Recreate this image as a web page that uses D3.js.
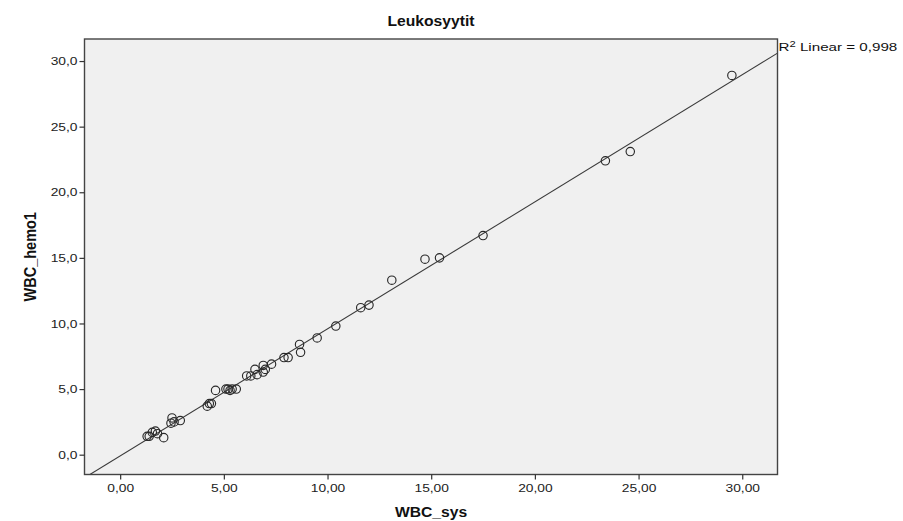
<!DOCTYPE html>
<html>
<head>
<meta charset="utf-8">
<script src="https://cdn.jsdelivr.net/npm/d3@7"></script>
<style>
  html, body { margin: 0; padding: 0; background: #ffffff; }
  svg { display: block; font-family: "Liberation Sans", Arial, sans-serif; }
</style>
</head>
<body>
<svg id="chart" width="903" height="521"></svg>
<script>
// White blood cell counts: reference system vs. haemolyser
const wbcSys = [
  29.5, 23.4, 24.6, 17.5, 14.7, 15.4, 13.1, 11.6, 12.0, 10.4,
  9.5, 8.65, 8.7, 7.9, 8.1, 7.3, 6.9, 6.5, 7.0, 6.9,
  6.3, 6.1, 4.6, 5.2, 5.4, 5.6, 5.3, 4.3, 4.2, 4.4,
  2.5, 2.6, 2.9, 2.45, 1.7, 1.55, 1.4, 2.1, 1.3, 1.8,
  6.6, 5.1
];
const wbcHemo = [
  28.9, 22.4, 23.1, 16.7, 14.9, 15.0, 13.3, 11.2, 11.4, 9.8,
  8.9, 8.4, 7.8, 7.4, 7.4, 6.9, 6.8, 6.5, 6.5, 6.3,
  6.0, 6.0, 4.9, 5.0, 5.0, 5.0, 4.9, 3.9, 3.7, 3.9,
  2.8, 2.5, 2.6, 2.4, 1.8, 1.7, 1.4, 1.3, 1.4, 1.6,
  6.1, 5.0
];
const xTicks = [0, 5, 10, 15, 20, 25, 30];
const yTicks = [0, 5, 10, 15, 20, 25, 30];
const xDomain = [-1.72, 31.7];
const yDomain = [-1.51, 31.68];
const chartTitle = "Leukosyytit";
const xTitle = "WBC_sys";
const yTitle = "WBC_hemo1";
const rSquaredText = "0,998";

const svg = d3.select("#chart");
const plot = { left: 84.5, top: 39, right: 777.5, bottom: 474.5 };
const tickStretch = 1.2;   // horizontal widening of tick labels
const titleStretch = 1.08; // horizontal widening of titles

const x = d3.scaleLinear().domain(xDomain).range([plot.left, plot.right]);
const y = d3.scaleLinear().domain(yDomain).range([plot.bottom, plot.top]);

const fmtX = v => d3.format(".2f")(v).replace(".", ",");
const fmtY = v => d3.format(".1f")(v).replace(".", ",");

// plot background
svg.append("rect")
  .attr("x", plot.left).attr("y", plot.top)
  .attr("width", plot.right - plot.left).attr("height", plot.bottom - plot.top)
  .attr("fill", "#f0f0f0");

svg.append("clipPath").attr("id", "plotClip")
  .append("rect")
  .attr("x", plot.left).attr("y", plot.top)
  .attr("width", plot.right - plot.left).attr("height", plot.bottom - plot.top);

// least-squares fit line
const data = wbcSys.map((v, i) => ({ x: v, y: wbcHemo[i] }));
const mx = d3.mean(data, d => d.x), my = d3.mean(data, d => d.y);
const slope = d3.sum(data, d => (d.x - mx) * (d.y - my)) / d3.sum(data, d => (d.x - mx) ** 2);
const intercept = my - slope * mx;
svg.append("line")
  .attr("clip-path", "url(#plotClip)")
  .attr("x1", x(xDomain[0])).attr("y1", y(intercept + slope * xDomain[0]))
  .attr("x2", x(xDomain[1])).attr("y2", y(intercept + slope * xDomain[1]))
  .attr("stroke", "#3a3a3a").attr("stroke-width", 1.1);

// points
svg.append("g").attr("clip-path", "url(#plotClip)")
  .selectAll("circle").data(data).join("circle")
  .attr("cx", d => x(d.x)).attr("cy", d => y(d.y)).attr("r", 4.2)
  .attr("fill", "none").attr("stroke", "#2a2a2a").attr("stroke-width", 1.15);

// frame
svg.append("rect")
  .attr("x", plot.left).attr("y", plot.top)
  .attr("width", plot.right - plot.left).attr("height", plot.bottom - plot.top)
  .attr("fill", "none").attr("stroke", "#444").attr("stroke-width", 1.4);

// axes
const xAxis = svg.append("g")
  .attr("transform", `translate(0,${plot.bottom})`)
  .call(d3.axisBottom(x).tickValues(xTicks).tickFormat(fmtX).tickSize(5).tickPadding(4));
const yAxis = svg.append("g")
  .attr("transform", `translate(${plot.left},0)`)
  .call(d3.axisLeft(y).tickValues(yTicks).tickFormat(fmtY).tickSize(5).tickPadding(2));
[xAxis, yAxis].forEach(g => {
  g.select(".domain").remove();
  g.selectAll(".tick line").attr("stroke", "#333").attr("stroke-width", 1.2);
  g.selectAll(".tick text").attr("fill", "#222").attr("font-size", 11.5)
    .attr("font-family", "'Liberation Sans', Arial, sans-serif");
});
xAxis.selectAll(".tick text").attr("transform", `scale(${tickStretch},1)`).attr("x", 0);
yAxis.selectAll(".tick text").attr("transform", `translate(-7,0) scale(${tickStretch},1)`).attr("x", 0);

// titles
svg.append("text")
  .attr("transform", `translate(${(plot.left + plot.right) / 2},26) scale(${titleStretch},1)`)
  .attr("text-anchor", "middle").attr("font-weight", "bold").attr("font-size", 14.5)
  .attr("fill", "#111").text(chartTitle);

svg.append("text")
  .attr("transform", `translate(${(plot.left + plot.right) / 2},517) scale(${titleStretch},1)`)
  .attr("text-anchor", "middle").attr("font-weight", "bold").attr("font-size", 14.5)
  .attr("fill", "#111").text(xTitle);

svg.append("text")
  .attr("transform", `translate(36,${(plot.top + plot.bottom) / 2}) scale(${titleStretch},1) rotate(-90)`)
  .attr("text-anchor", "middle").attr("font-weight", "bold").attr("font-size", 14.5)
  .attr("fill", "#111").text(yTitle);

// R squared note
const note = svg.append("text")
  .attr("transform", `translate(${plot.right + 1},51) scale(1.32,1)`)
  .attr("font-size", 11.5).attr("fill", "#111");
note.append("tspan").text("R");
note.append("tspan").attr("font-size", 8.5).attr("dy", -4.5).text("2");
note.append("tspan").attr("dy", 4.5).text(" Linear = " + rSquaredText);
</script>
</body>
</html>
